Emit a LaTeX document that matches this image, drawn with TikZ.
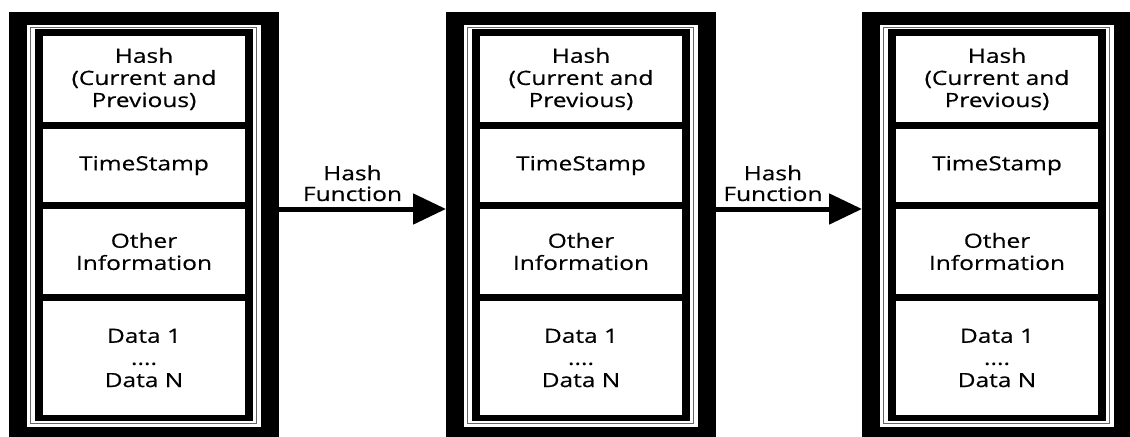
\documentclass[tikz,border=0pt]{standalone}
\usepackage{fontspec}
\newfontfamily\blockfont[FakeStretch=1.25, FakeBold=0.4]{Open Sans}
\usetikzlibrary{arrows.meta}
\tikzset{
  outerblk/.style={fill=black, draw=none, inner sep=0pt, outer sep=0pt,
    minimum width=202.5pt, minimum height=321pt},
  grayline/.style={draw=black!60, line width=1.3pt},
  cell/.style={fill=white, draw=none, inner sep=0pt, outer sep=0pt,
    minimum width=151.5pt, align=center, text=black,
    font=\blockfont\fontsize{14.7pt}{16.6pt}\selectfont},
  lbl/.style={inner sep=0pt, align=center, text=black,
    font=\blockfont\fontsize{14.7pt}{15.6pt}\selectfont},
  harrow/.style={draw=black, line width=3.75pt,
    -{Triangle[length=24.75pt, width=22.5pt]}},
}
\newcommand\mkblock[2]{%
  \node[outerblk] (#1) at (#2+135,226) {};
  \fill[white] (#2+18,25) rectangle (#2+252,427);
  \draw[grayline] (#2+21.5,27.5) rectangle (#2+247.5,423.5);
  \fill[black] (#2+26,29) rectangle (#2+244,421);
  \node[cell, minimum height=64.5pt] (#1c1) at (#2+135,79) {Hash\\(Current and\\Previous)};
  \node[cell, minimum height=54.75pt] (#1c2) at (#2+135,165.5) {TimeStamp};
  \node[cell, minimum height=63.75pt] (#1c3) at (#2+135,251.5) {Other\\Information};
  \node[cell, minimum height=85.5pt] (#1c4) at (#2+135,358) {Data 1\\....\\Data N};
}
\begin{document}
\begin{tikzpicture}[x=0.75pt, y=-0.75pt]
  \useasboundingbox (0,0) rectangle (1130,436);
  \mkblock{blkA}{9}
  \mkblock{blkB}{446}
  \mkblock{blkC}{862}
  \draw[harrow] ([yshift=12.75pt]blkA.east) -- ([yshift=12.75pt]blkB.west)
    node[lbl, pos=0.44, above=4pt] (lab1) {Hash\\Function};
  \draw[harrow] ([yshift=12.75pt]blkB.east) -- ([yshift=12.75pt]blkC.west)
    node[lbl, pos=0.39, above=4pt] (lab2) {Hash\\Function};
\end{tikzpicture}
\end{document}
